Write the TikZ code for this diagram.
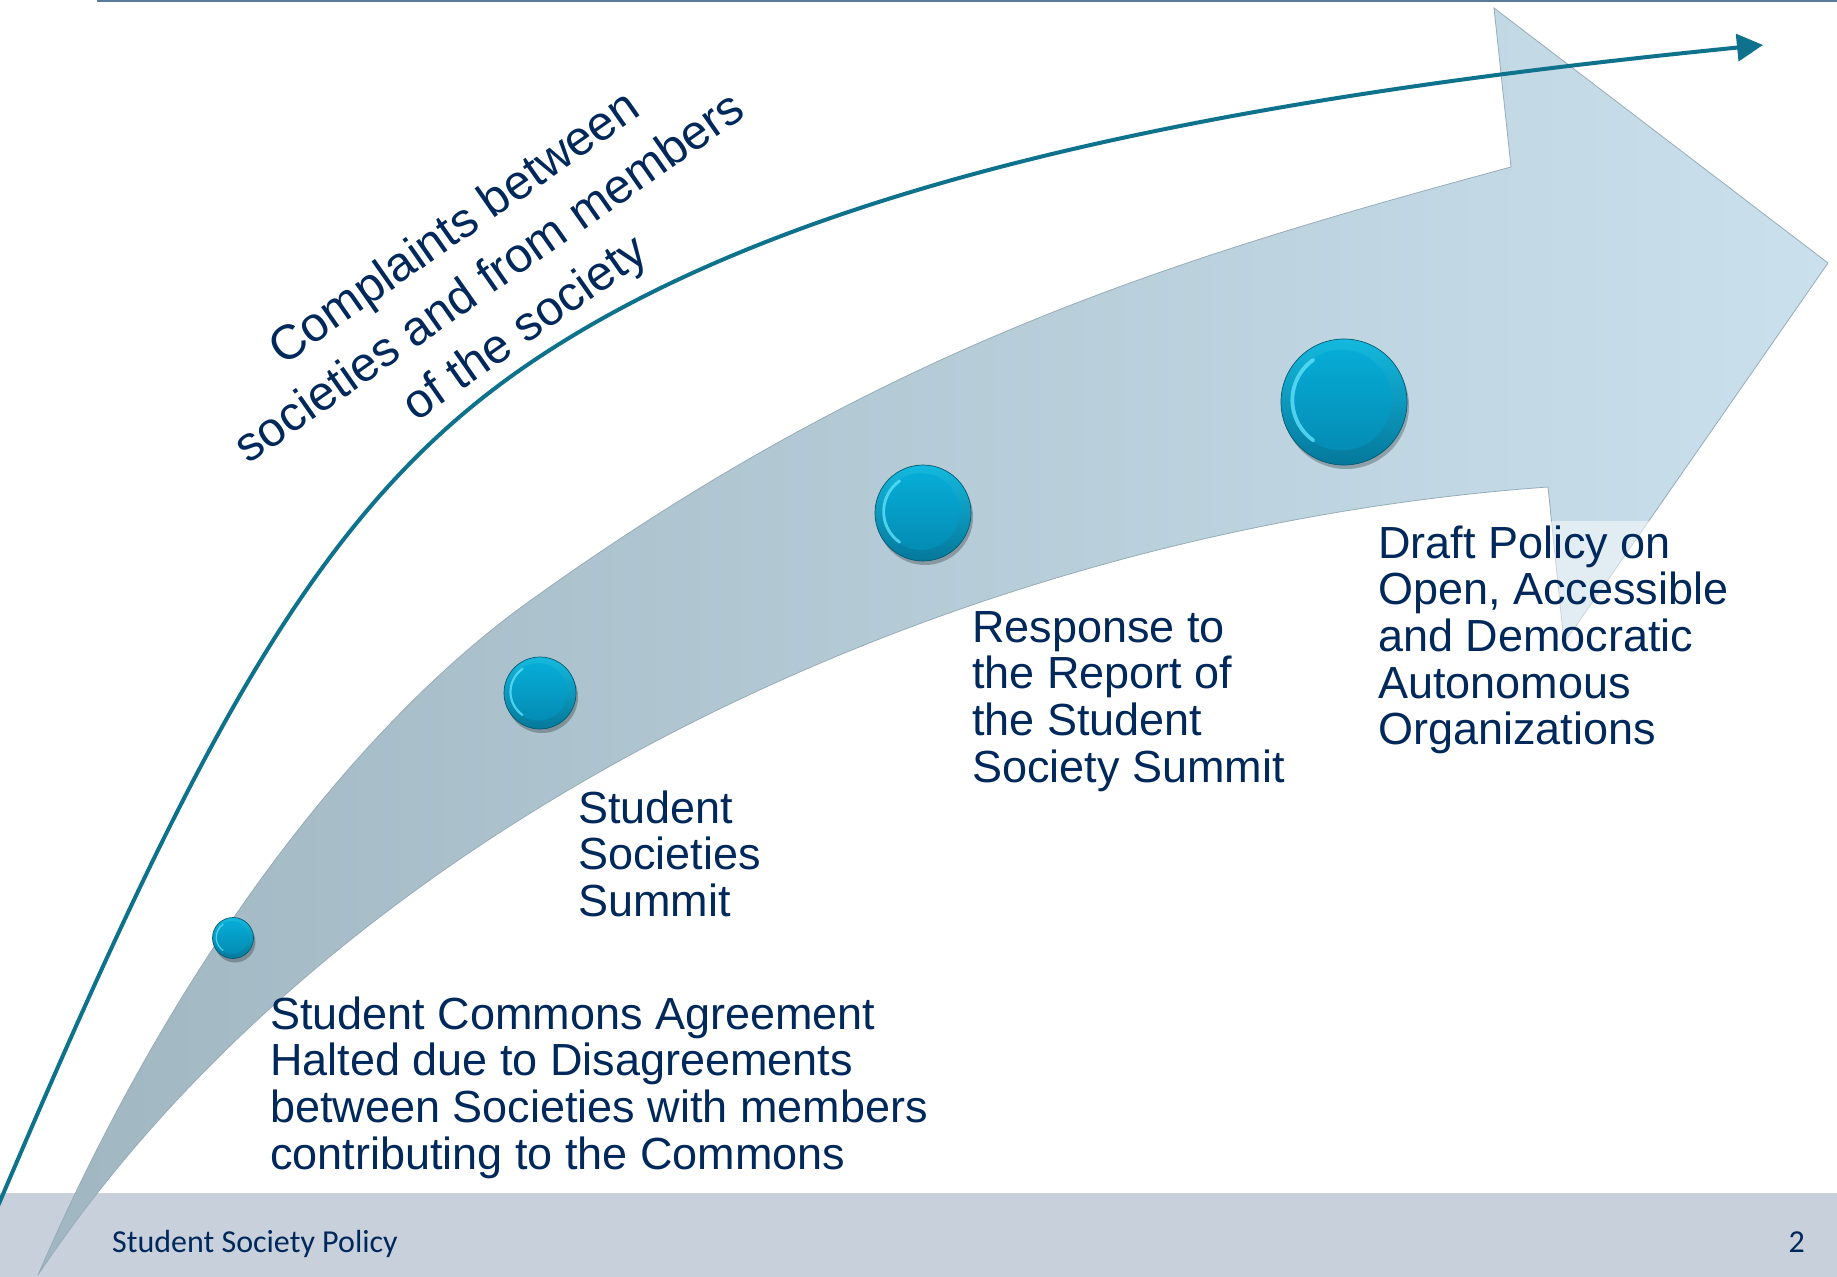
\documentclass[tikz,border=0pt]{standalone}
\usepackage{fontspec}
\setmainfont{Liberation Sans}
\newfontfamily\footfont{Carlito}
\usetikzlibrary{arrows.meta}
\definecolor{navy}{RGB}{0,40,90}
\definecolor{tealline}{RGB}{14,114,140}
\definecolor{footbg}{RGB}{200,208,220}
\definecolor{topline}{RGB}{90,122,155}
\definecolor{bandL}{RGB}{160,182,193}
\definecolor{bandR}{RGB}{202,225,237}
\definecolor{bandedge}{RGB}{150,172,184}
\definecolor{btnTop}{RGB}{20,185,222}
\definecolor{btnBot}{RGB}{4,120,155}
\definecolor{btnEdge}{RGB}{5,90,115}
\definecolor{inTop}{RGB}{6,172,214}
\definecolor{inBot}{RGB}{4,140,180}
\definecolor{hl}{RGB}{95,225,250}
\newcommand{\mtext}[1]{\fontsize{45}{46.7}\selectfont\begin{tabular}[t]{@{}l@{}}#1\end{tabular}}
\newcommand{\btn}[4]{%
  \fill[black, opacity=0.25] (#2+2,#3+4) circle[radius=#4 pt];
  \shade[top color=btnTop, bottom color=btnBot] (#2,#3) circle[radius=#4 pt];
  \draw[btnEdge, line width=0.7pt] (#2,#3) circle[radius=#4 pt];
  \shade[top color=inTop, bottom color=inBot] (#2-0.04*#4,#3-0.03*#4) circle[radius=0.8*#4 pt];
  \draw[hl, line width=0.06*#4 pt, line cap=round, opacity=0.8] (#2-0.04*#4,#3-0.03*#4) ++(125:0.78*#4 pt) arc[start angle=125, end angle=235, radius=0.78*#4 pt];
  \node[circle, inner sep=0pt, minimum size=2*#4 pt] (#1) at (#2,#3) {};
}
\tikzset{
  txt/.style={text=navy, inner sep=0pt, anchor=base west},
}
\begin{document}
\begin{tikzpicture}[x=1pt,y=-1pt]
\useasboundingbox (0,0) rectangle (1837,1277);
% footer band
\fill[footbg] (0,1193) rectangle (1837,1277);
% top rule
\draw[topline, line width=2pt] (97,1) -- (1837,1);
% big curved arrow
\shade[left color=bandL, right color=bandR, draw=bandedge, line width=0.8pt]
  (38,1275) .. controls (188,930) and (377,711) .. (527,603)
  .. controls (877,351) and (1161,261.5) .. (1511,167)
  -- (1494,8) -- (1828,263) -- (1564,643) -- (1548,487)
  .. controls (948,530) and (338,825) .. (38,1275)
  -- cycle;
% text box of last step (semi-transparent white)
\node[txt, fill=white, fill opacity=0.5, text opacity=1, inner xsep=10pt, inner ysep=4pt] (t4) at (1368,558)
  {\mtext{Draft Policy on\\Open, Accessible\\and Democratic\\Autonomous\\Organizations}};
% buttons
\btn{c1}{233}{938}{20.5}
\btn{c2}{540}{693}{36}
\btn{c3}{923}{513}{48}
\btn{c4}{1344}{402}{63}
% teal trend line
\coordinate (ts) at (-2,1206);
\coordinate (te) at (1763,45);
\draw[tealline, line width=4pt, -{Triangle[length=26pt,width=27pt]}]
  (ts) .. controls (200,730) and (320,510) .. (520,370)
  .. controls (800,174) and (1263,95) .. (te);
% rotated label
\node[text=navy, rotate=35, align=center, font=\fontsize{48.5}{61}\selectfont, inner sep=0pt] (cmp) at (491,280)
  {Complaints between\\societies and from members\\of the society};
% step labels
\node[txt] (t1) at (270,1029) {\mtext{Student Commons Agreement\\Halted due to Disagreements\\between Societies with members\\contributing to the Commons}};
\node[txt] (t2) at (578,823) {\mtext{Student\\Societies\\Summit}};
\node[txt] (t3) at (972,642) {\mtext{Response to\\the Report of\\the Student\\Society Summit}};
% footer
\node[txt, font=\footfont\fontsize{32}{38}\selectfont] (foot) at (112,1252) {Student Society Policy};
\node[text=navy, inner sep=0pt, anchor=base east, font=\footfont\fontsize{32}{38}\selectfont] (pg) at (1805,1252) {2};
\end{tikzpicture}
\end{document}
